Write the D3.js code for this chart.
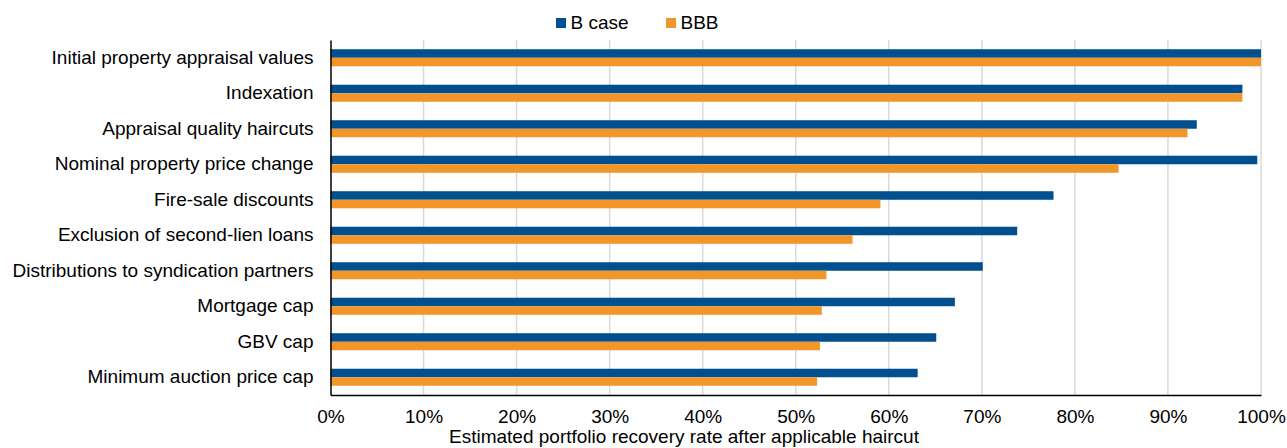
<!DOCTYPE html>
<html><head><meta charset="utf-8">
<script src="https://cdn.jsdelivr.net/npm/d3@7"></script>
<style>
html,body{margin:0;padding:0;background:#fff;}
svg{display:block;font-family:"Liberation Sans",Arial,sans-serif;}
</style></head>
<body>
<svg id="chart" width="1287" height="448"></svg>
<script>
const categories = ["Initial property appraisal values","Indexation","Appraisal quality haircuts","Nominal property price change","Fire-sale discounts","Exclusion of second-lien loans","Distributions to syndication partners","Mortgage cap","GBV cap","Minimum auction price cap"];
const seriesNames = ["B case","BBB"];
const bCase = [100, 98.0, 93.1, 99.6, 77.7, 73.8, 70.1, 67.1, 65.1, 63.1];
const bbb   = [100, 98.0, 92.1, 84.7, 59.1, 56.1, 53.3, 52.8, 52.6, 52.3];
const xTicks = [0,10,20,30,40,50,60,70,80,90,100];
const colors = ["#00508F","#F39629"];

(function(){
const FS = 19;
const svg = d3.select("#chart");
const mLeft = 330.5, mRight = 1261, mTop = 40, mBottom = 395;
const x = d3.scaleLinear().domain([0,100]).range([mLeft,mRight]);
const y = d3.scaleBand().domain(categories).range([mTop,mBottom]).paddingInner(0.52).paddingOuter(0.26);
const sub = d3.scaleBand().domain(seriesNames).range([0,y.bandwidth()]);

// gridlines
svg.append("g").selectAll("line").data(xTicks.filter(d=>d>0)).join("line")
  .attr("x1",d=>x(d)).attr("x2",d=>x(d)).attr("y1",mTop).attr("y2",mBottom)
  .attr("stroke","#d9d9d9").attr("stroke-width",1.5);

const data = categories.map((c,i)=>({cat:c, vals:[bCase[i],bbb[i]]}));
const groups = svg.append("g").selectAll("g").data(data).join("g")
  .attr("transform",d=>`translate(0,${y(d.cat)})`);
groups.selectAll("rect").data(d=>d.vals.map((v,j)=>({v,s:seriesNames[j],j}))).join("rect")
  .attr("x",x(0)).attr("y",d=>sub(d.s)).attr("width",d=>x(d.v)-x(0)).attr("height",sub.bandwidth())
  .attr("fill",d=>colors[d.j]);

// axes
const xAxis = d3.axisBottom(x).tickValues(xTicks).tickFormat(d=>d+"%").tickSize(0).tickPadding(15);
const gx = svg.append("g").attr("transform",`translate(0,${mBottom})`).call(xAxis);
gx.select(".domain").attr("stroke","#000").attr("stroke-width",1.5);
gx.selectAll("text").attr("font-size",FS).attr("fill","#000").attr("font-family","Liberation Sans, Arial, sans-serif");

const yAxis = d3.axisLeft(y).tickSize(0).tickPadding(17);
const gy = svg.append("g").attr("transform",`translate(${mLeft},0)`).call(yAxis);
gy.select(".domain").attr("stroke","#000").attr("stroke-width",1.5);
gy.selectAll("text").attr("font-size",FS).attr("fill","#000").attr("font-family","Liberation Sans, Arial, sans-serif");

svg.append("text").attr("x",684).attr("y",443).attr("text-anchor","middle")
  .attr("font-size",FS).attr("fill","#000").text("Estimated portfolio recovery rate after applicable haircut");

// legend
const legX = [556, 666];
const leg = svg.append("g").selectAll("g").data(seriesNames).join("g")
  .attr("transform",(d,i)=>`translate(${legX[i]},18)`);
leg.append("rect").attr("width",10).attr("height",10).attr("fill",(d,i)=>colors[i]);
leg.append("text").attr("x",14.5).attr("y",10.5).attr("font-size",FS).attr("fill","#000").text(d=>d);
})();
</script>
</body></html>
